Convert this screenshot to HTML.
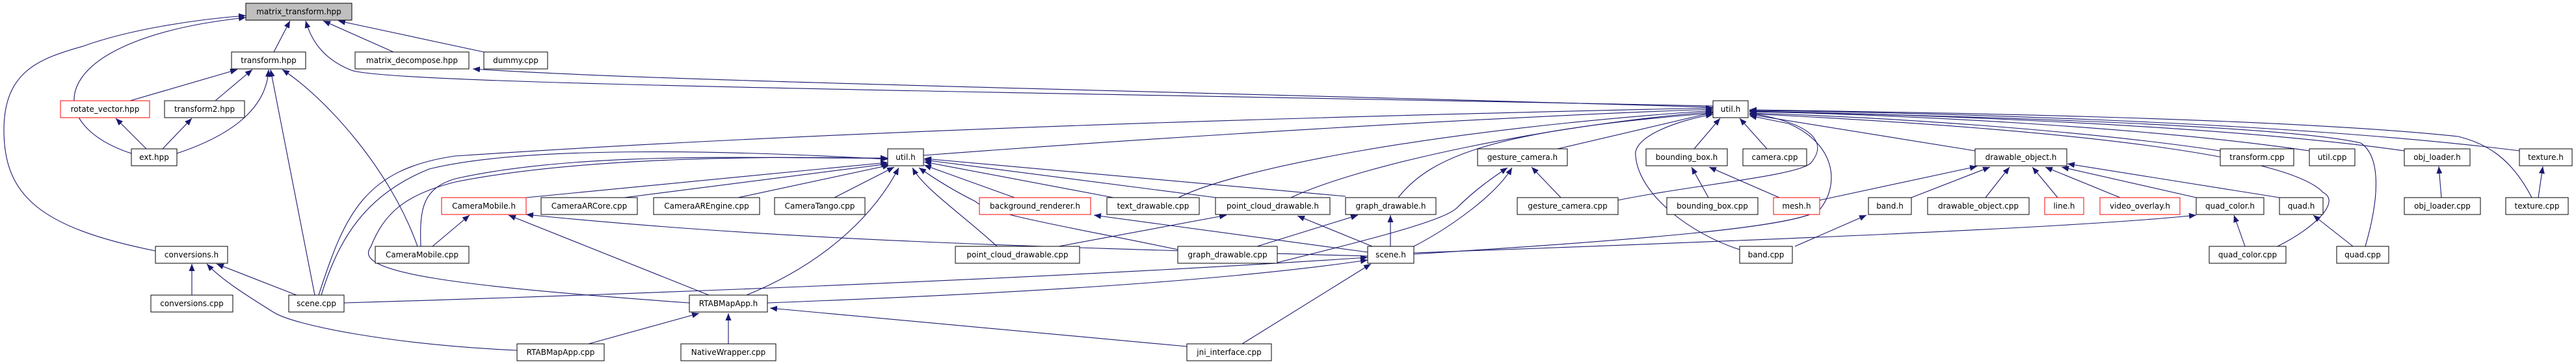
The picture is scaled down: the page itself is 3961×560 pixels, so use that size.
<!DOCTYPE html>
<html><head><meta charset="utf-8"><style>
html,body{margin:0;padding:0;background:#fff;width:3961px;height:560px;overflow:hidden}
svg text{font-family:"DejaVu Sans","Liberation Sans",sans-serif;font-size:12px;fill:#000}
</style></head><body>
<svg width="3961" height="560" viewBox="0 0 3961 560" xmlns="http://www.w3.org/2000/svg">
<defs><marker id="a" markerUnits="userSpaceOnUse" markerWidth="12" markerHeight="10" refX="11" refY="4.5" orient="auto"><path d="M0,0 L11,4.5 L0,9 z" fill="#191970"/></marker></defs>
<g fill="none" stroke="#191970" stroke-width="1.1" marker-end="url(#a)">
<path d="M421,80 L446,32"/>
<path d="M605,80 L497,32"/>
<path d="M744,80 L520,32"/>
<path d="M202,236 C60,190 70,60 378,27"/>
<path d="M239,386 C60,350 6,300 6,200 C6,110 60,90 128,71 C200,45 300,30 378,24"/>
<path d="M2634,163 C1500,140 600,130 540,108 C495,90 478,60 470,32"/>
<path d="M2634,165 C1800,140 1000,125 727,106"/>
<path d="M200,155 L365,107"/>
<path d="M331,155 L388,107"/>
<path d="M272,236 C350,210 410,170 413,107"/>
<path d="M484,454 L416,107"/>
<path d="M642,379 C600,260 500,150 434,107"/>
<path d="M225,229 L178,182"/>
<path d="M250,229 L295,182"/>
<path d="M295,454 L295,406"/>
<path d="M456,454 L333,406"/>
<path d="M795,539 C600,530 450,500 420,480 C380,455 340,430 318,406"/>
<path d="M665,379 L722,331"/>
<path d="M1090,454 L782,331"/>
<path d="M2103,394 C1600,380 1200,370 809,330"/>
<path d="M647,379 C645,320 650,290 700,275 C900,230 1200,245 1365,243"/>
<path d="M494,454 C520,370 560,300 660,260 C800,225 1100,230 1365,245"/>
<path d="M490,454 C530,330 560,260 700,240 C1300,200 2000,180 2634,166"/>
<path d="M529,466 C900,455 1600,430 2103,396"/>
<path d="M1060,466 C700,440 540,420 570,380 C590,330 620,300 700,280 C900,240 1200,240 1365,244"/>
<path d="M1148,454 C1280,400 1350,320 1382,258"/>
<path d="M1180,466 C1600,450 1900,430 2103,400"/>
<path d="M905,529 L1075,482"/>
<path d="M1120,529 L1120,482"/>
<path d="M1825,533 L1184,474"/>
<path d="M1910,529 L2108,406"/>
<path d="M809,304 L1365,250"/>
<path d="M960,304 L1366,252"/>
<path d="M1135,304 L1368,254"/>
<path d="M1283,304 L1375,257"/>
<path d="M1560,304 L1421,254"/>
<path d="M1712,304 L1421,249"/>
<path d="M1870,304 L1421,246"/>
<path d="M2069,302 L1421,244"/>
<path d="M1533,379 C1480,330 1420,290 1403,258"/>
<path d="M1811,384 C1650,350 1520,330 1500,310 C1460,290 1430,270 1413,258"/>
<path d="M1420,239 C1800,210 2300,180 2634,168"/>
<path d="M1812,304 C1900,260 2200,200 2634,170"/>
<path d="M1985,304 C2100,250 2400,190 2634,172"/>
<path d="M2150,304 C2200,240 2300,200 2634,174"/>
<path d="M1628,379 L1886,331"/>
<path d="M1933,379 L2088,331"/>
<path d="M2138,379 L2138,331"/>
<path d="M2103,388 L1682,331"/>
<path d="M2110,379 L1995,332"/>
<path d="M2400,304 L2355,257"/>
<path d="M2174,379 C2230,350 2300,300 2325,258"/>
<path d="M1960,405 C2100,370 2220,340 2240,320 C2270,290 2300,270 2318,258"/>
<path d="M2395,229 L2634,173"/>
<path d="M2627,304 L2601,257"/>
<path d="M2736,304 L2628,257"/>
<path d="M2605,229 L2645,182"/>
<path d="M2717,229 L2675,182"/>
<path d="M2488,308 C2600,285 2770,270 2785,250 C2810,220 2790,190 2690,174"/>
<path d="M2675,384 C2600,360 2520,300 2515,240 C2510,210 2580,185 2634,176"/>
<path d="M2174,391 C2500,370 2780,350 2800,320 C2830,280 2820,220 2750,190 L2690,178"/>
<path d="M2174,389 C2700,370 3200,350 3377,331"/>
<path d="M2760,379 L2870,331"/>
<path d="M2798,308 L3040,256"/>
<path d="M2939,304 L3060,257"/>
<path d="M3053,304 L3090,257"/>
<path d="M3164,304 L3125,257"/>
<path d="M3260,304 L3145,257"/>
<path d="M3377,304 L3170,257"/>
<path d="M3505,304 L3179,252"/>
<path d="M3037,232 L2690,176"/>
<path d="M3414,232 C3200,200 2900,180 2690,174"/>
<path d="M3551,232 C3300,195 2900,175 2690,172"/>
<path d="M3697,232 C3400,190 2900,175 2690,171"/>
<path d="M3874,232 C3500,185 2900,172 2690,170"/>
<path d="M3893,304 C3860,240 3820,220 3780,210 C3500,180 2900,172 2690,169"/>
<path d="M3637,379 C3660,300 3660,240 3630,220 C3500,190 2900,175 2690,172"/>
<path d="M3502,379 C3560,350 3600,310 3572,296 C3520,240 3200,200 2690,175"/>
<path d="M3452,379 L3435,331"/>
<path d="M3618,379 L3557,331"/>
<path d="M3754,304 L3750,256"/>
<path d="M3903,304 L3910,256"/>
</g>
<g stroke-width="1">
<!-- nodes: x1,x2,y -->
<rect x="378" y="5" width="163" height="26" fill="#bfbfbf" stroke="#000"/><text x="459.5" y="22" text-anchor="middle">matrix_transform.hpp</text>
<g fill="#fff" stroke="#000">
<rect x="356" y="80" width="114" height="26"/><rect x="546" y="80" width="175" height="26"/><rect x="744" y="80" width="98" height="26"/>
<rect x="253" y="155" width="123" height="26"/>
<rect x="202" y="229" width="70" height="26"/><rect x="1365" y="229" width="55" height="26"/>
<rect x="2634" y="155" width="54" height="26"/>
<rect x="2272" y="229" width="138" height="26"/><rect x="2531" y="229" width="125" height="26"/><rect x="2680" y="229" width="98" height="26"/>
<rect x="3037" y="229" width="141" height="26"/><rect x="3414" y="229" width="113" height="26"/><rect x="3551" y="229" width="70" height="26"/><rect x="3697" y="229" width="101" height="26"/><rect x="3874" y="229" width="81" height="26"/>
<rect x="832" y="304" width="148" height="26"/><rect x="1005" y="304" width="163" height="26"/><rect x="1191" y="304" width="139" height="26"/><rect x="1702" y="304" width="142" height="26"/><rect x="1869" y="304" width="176" height="26"/><rect x="2069" y="304" width="139" height="26"/><rect x="2333" y="304" width="155" height="26"/><rect x="2563" y="304" width="140" height="26"/><rect x="2873" y="304" width="66" height="26"/><rect x="2964" y="304" width="156" height="26"/><rect x="3377" y="304" width="104" height="26"/><rect x="3505" y="304" width="67" height="26"/><rect x="3697" y="304" width="117" height="26"/><rect x="3853" y="304" width="96" height="26"/>
<rect x="239" y="379" width="111" height="26"/><rect x="577" y="379" width="144" height="26"/><rect x="1469" y="379" width="191" height="26"/><rect x="1811" y="379" width="153" height="26"/><rect x="2103" y="379" width="71" height="26"/><rect x="2675" y="379" width="81" height="26"/><rect x="3397" y="379" width="118" height="26"/><rect x="3593" y="379" width="80" height="26"/>
<rect x="232" y="454" width="126" height="26"/><rect x="444" y="454" width="85" height="26"/><rect x="1060" y="454" width="120" height="26"/>
<rect x="795" y="529" width="134" height="26"/><rect x="1047" y="529" width="146" height="26"/><rect x="1825" y="529" width="130" height="26"/>
</g>
<g fill="#fff" stroke="#ff0000">
<rect x="93" y="155" width="137" height="26"/><rect x="679" y="304" width="130" height="26"/><rect x="1506" y="304" width="171" height="26"/><rect x="2727" y="304" width="71" height="26"/><rect x="3144" y="304" width="60" height="26"/><rect x="3229" y="304" width="123" height="26"/>
</g>
</g>
<g text-anchor="middle">
<text x="413" y="97">transform.hpp</text><text x="633.5" y="97">matrix_decompose.hpp</text><text x="793" y="97">dummy.cpp</text>
<text x="161.5" y="172">rotate_vector.hpp</text><text x="314.5" y="172">transform2.hpp</text><text x="2661" y="172">util.h</text>
<text x="237" y="246">ext.hpp</text><text x="1392.5" y="246">util.h</text><text x="2341" y="246">gesture_camera.h</text><text x="2593.5" y="246">bounding_box.h</text><text x="2729" y="246">camera.cpp</text><text x="3107.5" y="246">drawable_object.h</text><text x="3470.5" y="246">transform.cpp</text><text x="3586" y="246">util.cpp</text><text x="3747.5" y="246">obj_loader.h</text><text x="3914.5" y="246">texture.h</text>
<text x="744" y="321">CameraMobile.h</text><text x="906" y="321">CameraARCore.cpp</text><text x="1086.5" y="321">CameraAREngine.cpp</text><text x="1260.5" y="321">CameraTango.cpp</text><text x="1591.5" y="321">background_renderer.h</text><text x="1773" y="321">text_drawable.cpp</text><text x="1957" y="321">point_cloud_drawable.h</text><text x="2138.5" y="321">graph_drawable.h</text><text x="2410.5" y="321">gesture_camera.cpp</text><text x="2633" y="321">bounding_box.cpp</text><text x="2762.5" y="321">mesh.h</text><text x="2906" y="321">band.h</text><text x="3042" y="321">drawable_object.cpp</text><text x="3174" y="321">line.h</text><text x="3290.5" y="321">video_overlay.h</text><text x="3429" y="321">quad_color.h</text><text x="3538.5" y="321">quad.h</text><text x="3755.5" y="321">obj_loader.cpp</text><text x="3901" y="321">texture.cpp</text>
<text x="294.5" y="396">conversions.h</text><text x="649" y="396">CameraMobile.cpp</text><text x="1564.5" y="396">point_cloud_drawable.cpp</text><text x="1887.5" y="396">graph_drawable.cpp</text><text x="2138.5" y="396">scene.h</text><text x="2715.5" y="396">band.cpp</text><text x="3456" y="396">quad_color.cpp</text><text x="3633" y="396">quad.cpp</text>
<text x="295" y="471">conversions.cpp</text><text x="486.5" y="471">scene.cpp</text><text x="1120" y="471">RTABMapApp.h</text>
<text x="862" y="546">RTABMapApp.cpp</text><text x="1120" y="546">NativeWrapper.cpp</text><text x="1890" y="546">jni_interface.cpp</text>
</g>
</svg>
</body></html>
